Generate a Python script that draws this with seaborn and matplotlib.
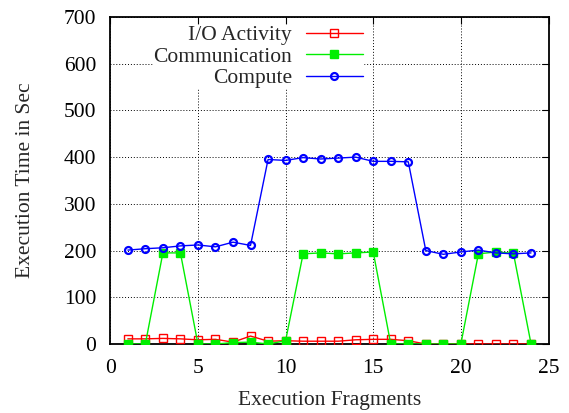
import matplotlib
matplotlib.use("Agg")
import matplotlib.pyplot as plt
import seaborn as sns
import pandas as pd

fragments = list(range(1, 25))
io_activity = [11, 11, 12, 11, 9, 10, 4, 17, 6, 7, 6, 6, 6, 9, 10, 10, 7, 0, 0, 0, 0, 0, 0, 0]
communication = [0, 0, 195, 195, 0, 0, 3, 4, 0, 7, 193, 195, 193, 195, 197, 0, 0, 0, 0, 0, 193, 197, 194, 1]
compute = [201, 204, 206, 210, 212, 208, 218, 211, 395, 393, 399, 396, 398, 400, 391, 391, 390, 200, 192, 197, 201, 195, 193, 195]

series_names = ["I/O Activity", "Communication", "Compute"]
x_ticks = [0, 5, 10, 15, 20, 25]
y_ticks = [0, 100, 200, 300, 400, 500, 600, 700]

df = pd.DataFrame({
    "Fragment": fragments * 3,
    "Time": io_activity + communication + compute,
    "Series": [series_names[0]] * 24 + [series_names[1]] * 24 + [series_names[2]] * 24,
})

sns.set_style("white")
plt.rcParams["font.family"] = ["Liberation Serif", "DejaVu Serif"]

FS = 15.5
W, H = 569, 413
L, R, T, B = 110.3, 548.5, 17.0, 344.0

fig = plt.figure(figsize=(W / 100, H / 100), dpi=100)
ax = fig.add_axes([L / W, (H - B) / H, (R - L) / W, (B - T) / H])

styles = {
    "I/O Activity": dict(color="#ff0000", marker="s", mfc="none", mec="#ff0000", ms=5.5, mew=1.0),
    "Communication": dict(color="#00ee00", marker="s", mfc="#00ee00", mec="#00ee00", ms=5.5, mew=1.0),
    "Compute": dict(color="#0000ff", marker="o", mfc="none", mec="#0000ff", ms=5, mew=1.6),
}

for name in series_names:
    st = styles[name]
    sub = df[df["Series"] == name]
    sns.lineplot(data=sub, x="Fragment", y="Time", ax=ax, color=st["color"], lw=1.0,
                 marker=st["marker"], markersize=st["ms"], markerfacecolor=st["mfc"],
                 markeredgecolor=st["mec"], markeredgewidth=st["mew"], label=name, zorder=3)

ax.set_xlim(0, 25)
ax.set_ylim(0, 700)
ax.set_xticks(x_ticks)
ax.set_yticks(y_ticks)
ax.set_xticklabels([str(v) for v in x_ticks])
ax.set_yticklabels([str(v) for v in y_ticks])
ax.tick_params(axis="x", which="major", direction="in", length=5, width=0.8,
               top=True, labelsize=FS, pad=11, colors="black")
ax.tick_params(axis="y", which="major", direction="in", length=5, width=0.8,
               right=True, labelsize=FS, pad=10, colors="black")
ax.grid(True, which="major", color="black", linestyle=(0, (1, 2)), linewidth=0.7)
for sp in ax.spines.values():
    sp.set_color("black")
    sp.set_linewidth(1.3)

ax.set_xlabel("Execution Fragments", fontsize=FS, labelpad=9)
ax.set_ylabel("Execution Time in Sec", fontsize=FS, labelpad=21)

leg = ax.legend(loc="upper right", bbox_to_anchor=((363 - L) / (R - L), (B - 25) / (B - T)),
                borderaxespad=0, frameon=True, fontsize=FS,
                markerfirst=False, handlelength=2.65, handletextpad=0.65, labelspacing=0.07,
                borderpad=0.0, fancybox=False, edgecolor="white", facecolor="white", framealpha=1)
leg.set_zorder(5)
# right-align the legend entries (texts end at the same x, like gnuplot)
try:
    leg._legend_box._children[1]._children[0].align = "right"
except Exception:
    pass
for h in leg.legend_handles:
    h.set_linewidth(1.0)

fig.savefig("out.png", dpi=100)
